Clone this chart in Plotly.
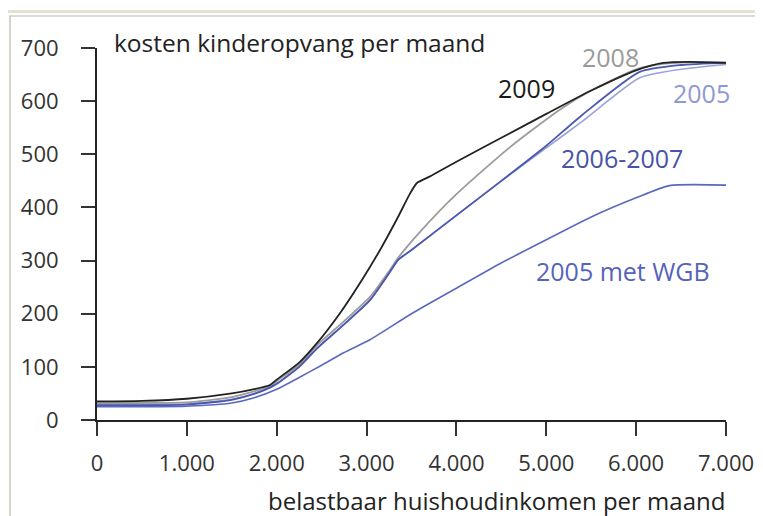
import plotly.graph_objects as go

# --- data ---
x_2009 = [0, 500, 1000, 1500, 1750, 1925, 2000, 2250, 2450, 2700, 2950, 3150, 3350, 3480, 3560, 3700, 4000, 4500, 5000, 5500, 6000, 6300, 6600, 7000]
y_2009 = [35, 36, 40, 50, 58, 66, 76, 108, 145, 200, 264, 320, 382, 425, 446, 458, 486, 531, 576, 620, 658, 672, 674, 672]

x_2008 = [0, 500, 1000, 1500, 1750, 1925, 2000, 2250, 2450, 2750, 3040, 3250, 3350, 3600, 4000, 4600, 5150, 5500, 6000, 6300, 6600, 7000]
y_2008 = [32, 32, 33, 43, 54, 63, 73, 104, 141, 186, 232, 280, 305, 355, 425, 514, 584, 620, 660, 670, 673, 673]

x_0607 = [0, 500, 1000, 1500, 1750, 1925, 2000, 2250, 2450, 2750, 3040, 3250, 3350, 3500, 4000, 4500, 5000, 5400, 6040, 6500, 7000]
y_0607 = [28, 28, 29, 38, 49, 61, 68, 100, 135, 180, 226, 276, 301, 320, 385, 450, 516, 574, 655, 668, 672]

x_2005 = [0, 500, 1000, 1500, 1750, 1925, 2000, 2250, 2450, 2750, 3040, 3250, 3350, 3500, 4000, 4500, 5000, 5400, 6040, 6500, 7000]
y_2005 = [30, 30, 30, 39, 50, 61, 68, 100, 135, 180, 226, 276, 301, 320, 385, 450, 512, 562, 644, 660, 669]

x_wgb = [0, 500, 1000, 1500, 1750, 2000, 2250, 2500, 2750, 3037, 3500, 4000, 4483, 4930, 5500, 6000, 6370, 7000]
y_wgb = [25, 25, 26, 32, 42, 58, 80, 103, 127, 151, 200, 248, 294, 333, 382, 418, 441, 442]

x_ticks = [0, 1000, 2000, 3000, 4000, 5000, 6000, 7000]
x_ticklabels = ["0", "1.000", "2.000", "3.000", "4.000", "5.000", "6.000", "7.000"]
y_ticks = [0, 100, 200, 300, 400, 500, 600, 700]

labels = [
    ("2009", 4783, 625, "#1a1a1a"),
    ("2008", 5718, 684, "#9a9a9a"),
    ("2005", 6730, 616, "#8e98d4"),
    ("2006-2007", 5840, 493, "#4654a8"),
    ("2005 met WGB", 5851, 281, "#5564b8"),
]

FONT = "Open Sans"

fig = go.Figure()
series = [
    (x_wgb, y_wgb, "#5a69bd", 1.6),
    (x_2005, y_2005, "#9aa3d9", 1.6),
    (x_2008, y_2008, "#9c9c9c", 1.8),
    (x_0607, y_0607, "#4a59b0", 1.8),
    (x_2009, y_2009, "#222222", 1.8),
]
for xs, ys, col, w in series:
    fig.add_trace(go.Scatter(x=xs, y=ys, mode="lines",
                             line=dict(color=col, width=w, shape="spline", smoothing=0.6),
                             showlegend=False, hoverinfo="skip"))

for txt, lx, ly, col in labels:
    fig.add_annotation(x=lx, y=ly, text=txt, showarrow=False,
                       font=dict(family=FONT, size=25, color=col),
                       xanchor="center", yanchor="middle")

# page offset of the figure (body margin) is 8 px
OFF = 8
W, H = 763, 516
L, T = 97 - OFF, 48 - OFF
R = W - (726 - OFF)
B = H - (420 - OFF)
pw, ph = W - L - R, H - T - B

def px(x):
    return (x - OFF - L) / pw

def py(y):
    return (H - B - (y - OFF)) / ph

# axis titles as text
fig.add_annotation(x=px(112), y=py(42), xref="paper", yref="paper", text="kosten kinderopvang per maand",
                   showarrow=False, xanchor="left", yanchor="middle",
                   font=dict(family=FONT, size=24.5, color="#222222"))
fig.add_annotation(x=px(727), y=py(500), xref="paper", yref="paper", text="belastbaar huishoudinkomen per maand",
                   showarrow=False, xanchor="right", yanchor="middle",
                   font=dict(family=FONT, size=24, color="#222222"))

# window frame
fig.add_shape(type="rect", xref="paper", yref="paper", x0=px(5.5), y0=py(11.5), x1=px(800), y1=py(560),
              line=dict(color="#e6e2cf", width=3), layer="below")
fig.add_shape(type="rect", xref="paper", yref="paper", x0=px(10), y0=py(16), x1=px(800), y1=py(560),
              line=dict(color="#b9b6a8", width=1.2), layer="below")

fig.update_layout(
    width=W, height=H,
    margin=dict(l=L, r=R, t=T, b=B, autoexpand=False),
    paper_bgcolor="white", plot_bgcolor="white",
    font=dict(family=FONT, size=22, color="#333333"),
    xaxis=dict(range=[0, 7000], tickvals=x_ticks, ticktext=x_ticklabels,
               showgrid=False, zeroline=False, showline=True, linecolor="#222222", linewidth=2,
               ticks="outside", ticklen=14, tickwidth=2, tickcolor="#333333",
               tickfont=dict(family=FONT, size=22, color="#333333"), ticklabelstandoff=9),
    yaxis=dict(range=[0, 700], tickvals=y_ticks,
               showgrid=False, zeroline=False, showline=True, linecolor="#222222", linewidth=2,
               ticks="outside", ticklen=14, tickwidth=2, tickcolor="#333333",
               tickfont=dict(family=FONT, size=22, color="#333333"), ticklabelstandoff=18),
)

fig.write_html("out.html")
